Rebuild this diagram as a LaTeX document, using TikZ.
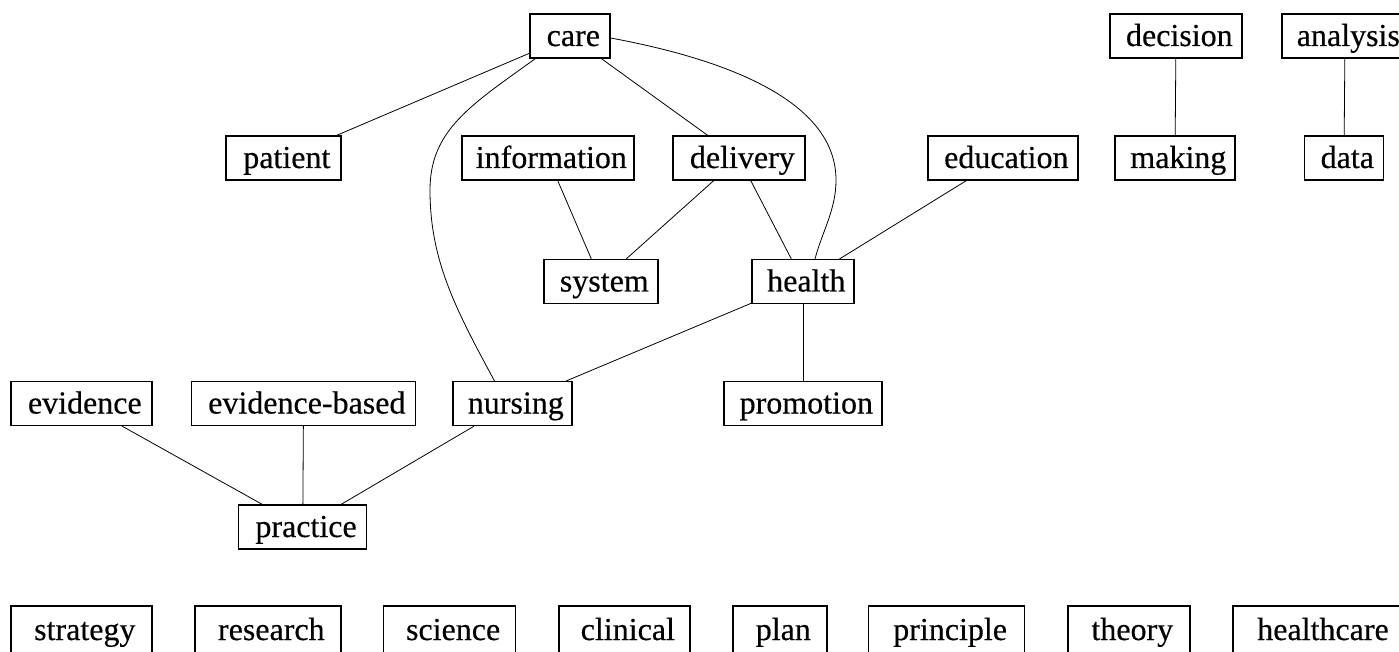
\documentclass[tikz,border=0pt]{standalone}
\usepackage{fontspec}
\setmainfont{Liberation Serif}
\newfontface\boxfont{Liberation Serif}[FakeBold=0.4]
\usetikzlibrary{calc}
\tikzset{
  box/.style={draw, line width=0.9pt, rectangle, inner sep=0pt,
    minimum height=33pt, text height=18pt, text depth=3pt,
    font=\fontsize{24}{28}\boxfont,
    execute at begin node={\hspace*{5pt}}},
  bw/.style={minimum width={#1*0.75pt}},
  link/.style={line width=0.6pt}
}
\begin{document}
\begin{tikzpicture}[x=0.75pt,y=-0.75pt]
\useasboundingbox (0,0) rectangle (1399,652);
\clip (0,0) rectangle (1399,652);
% top row
\node[box,bw=80]  (care)     at (570,36)   {care};
\node[box,bw=132] (decision) at (1176,36)  {decision};
\node[box,bw=126,execute at begin node={}] (analysis) at (1345,36)  {analysis};
% second row
\node[box,bw=115] (patient)     at (283.5,158) {patient};
\node[box,bw=172] (information) at (548,158)   {information};
\node[box,bw=132] (delivery)    at (739,158)   {delivery};
\node[box,bw=150] (education)   at (1003,158)  {education};
\node[box,bw=120] (making)      at (1175,158)  {making};
\node[box,bw=79]  (data)        at (1344,158)  {data};
% third row
\node[box,bw=114] (system) at (601,281.5) {system};
\node[box,bw=102] (health) at (803,281.5) {health};
% fourth row
\node[box,bw=141] (evidence)  at (81.5,403.5)  {evidence};
\node[box,bw=224] (evbased)   at (303.5,403.5) {evidence-based};
\node[box,bw=119] (nursing)   at (512.5,403.5) {nursing};
\node[box,bw=158] (promotion) at (803,403.5)   {promotion};
% practice
\node[box,bw=128] (practice) at (302.75,527) {practice};
% bottom row
\node[box,bw=141,minimum height=36pt] (strategy)   at (81.5,630)  {strategy};
\node[box,bw=146,minimum height=36pt] (research)   at (268,630)   {research};
\node[box,bw=132,minimum height=36pt] (science)    at (449.8,630) {science};
\node[box,bw=131,minimum height=36pt] (clinical)   at (624.5,630) {clinical};
\node[box,bw=94,minimum height=36pt]  (plan)       at (780,630)   {plan};
\node[box,bw=156,minimum height=36pt] (principle)  at (946.8,630) {principle};
\node[box,bw=122,minimum height=36pt] (theory)     at (1129,630)  {theory};
\node[box,bw=172,minimum height=36pt,execute at begin node={\hspace*{1pt}}] (healthcare) at (1319,630)  {healthcare};
% straight connectors
\draw[link] (care) -- (patient);
\draw[link] (care) -- (delivery);
\draw[link] (information) -- (system);
\draw[link] (delivery) -- (system);
\draw[link] (delivery) -- (health);
\draw[link] (education) -- (health);
\draw[link] (health) -- (nursing);
\draw[link] (health) -- (promotion);
\draw[link] (decision) -- (making);
\draw[link] (analysis) -- (data);
\draw[link] (evidence) -- (practice);
\draw[link] (evbased) -- (practice);
\draw[link] (nursing) -- (practice);
% curved connectors
\draw[link] ($(care.south west)+(6,0)$)
   .. controls (471,105) and (430,130) .. (430,190)
   .. controls (430,260) and (455,308) .. ($(nursing.north west)!0.35!(nursing.north east)$);
\draw[link] ($(care.east)+(0,2)$)
   .. controls (724,59) and (836,100) .. (836,180)
   .. controls (836,210) and (822,232) .. ($(health.north)+(12,0)$);
\end{tikzpicture}
\end{document}
